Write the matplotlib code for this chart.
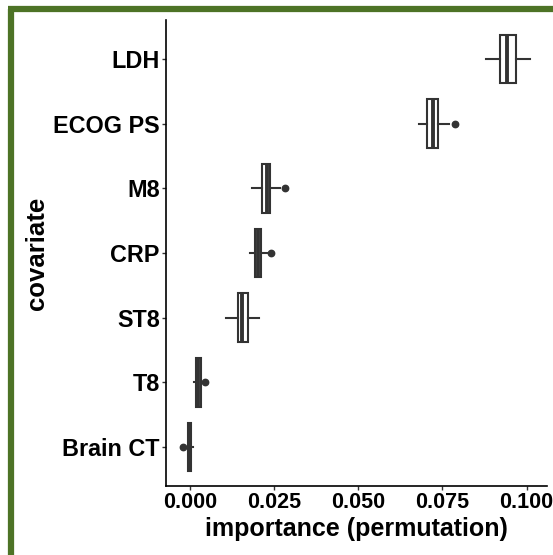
import matplotlib
matplotlib.use("Agg")
import matplotlib.pyplot as plt
from matplotlib.lines import Line2D

plt.rcParams['font.family'] = ['Liberation Sans', 'DejaVu Sans']
plt.rcParams['font.weight'] = 'bold'

covariates = ["Brain CT", "T8", "ST8", "CRP", "M8", "ECOG PS", "LDH"]
whis_lo = [-0.0010, 0.0012, 0.0107, 0.0179, 0.0185, 0.0680, 0.0880]
q1 = [-0.0006, 0.0020, 0.0142, 0.0195, 0.0215, 0.0704, 0.0922]
median = [-0.0001, 0.0026, 0.0156, 0.0204, 0.0228, 0.0721, 0.0943]
q3 = [0.0004, 0.0032, 0.0173, 0.0213, 0.0239, 0.0738, 0.0967]
whis_hi = [0.0010, 0.0034, 0.0207, 0.0229, 0.0269, 0.0769, 0.1009]
outliers = [[-0.0019], [0.0045], [], [0.0241], [0.0283], [0.0786], []]

xticks = [0.0, 0.025, 0.05, 0.075, 0.1]
xtick_labels = ["0.000", "0.025", "0.050", "0.075", "0.100"]

dark = "#333333"
green = "#4d7326"

fig = plt.figure(figsize=(5.53, 5.55), dpi=100)
W, H = 553, 555
ax = fig.add_axes([166 / W, (H - 486) / H, (547 - 166) / W, (486 - 20) / H])

stats = []
for i in range(len(covariates)):
    stats.append(dict(med=median[i], q1=q1[i], q3=q3[i],
                      whislo=whis_lo[i], whishi=whis_hi[i], fliers=outliers[i]))

ax.bxp(stats, positions=range(1, len(covariates) + 1), vert=False, widths=0.75,
       patch_artist=True, showcaps=False,
       boxprops=dict(facecolor="white", edgecolor=dark, linewidth=1.5),
       medianprops=dict(color=dark, linewidth=2.8),
       whiskerprops=dict(color=dark, linewidth=1.5),
       flierprops=dict(marker="o", markerfacecolor=dark, markeredgecolor=dark,
                       markersize=4.6))

xmin = min(min(whis_lo), min(min(o) for o in outliers if o))
xmax = max(whis_hi)
pad = (xmax - xmin) * 0.05
ax.set_xlim(xmin - pad, xmax + pad)
ax.set_ylim(0.4, len(covariates) + 0.6)

ax.set_yticks(range(1, len(covariates) + 1))
ax.set_yticklabels(covariates)
ax.set_xticks(xticks)
ax.set_xticklabels(xtick_labels)
ax.tick_params(axis="both", length=3, width=1, color=dark,
               labelcolor="black", pad=1.5)
ax.tick_params(axis="x", labelsize=15.5)
ax.tick_params(axis="y", labelsize=16.8)

for s in ["top", "right"]:
    ax.spines[s].set_visible(False)
for s in ["left", "bottom"]:
    ax.spines[s].set_linewidth(1.2)
    ax.spines[s].set_color("black")

ax.set_xlabel("importance (permutation)", fontsize=18, fontweight="bold", labelpad=3)
ax.set_ylabel("covariate", fontsize=18.5, fontweight="bold", labelpad=3)

# green frame around the panel
fig.add_artist(Line2D([11 / W, 11 / W], [0, (H - 9) / H], color=green, linewidth=4.5,
                      solid_capstyle="butt"))
fig.add_artist(Line2D([8 / W, 1], [(H - 9) / H, (H - 9) / H], color=green, linewidth=4.5,
                      solid_capstyle="butt"))

fig.savefig("out.png", dpi=100)
